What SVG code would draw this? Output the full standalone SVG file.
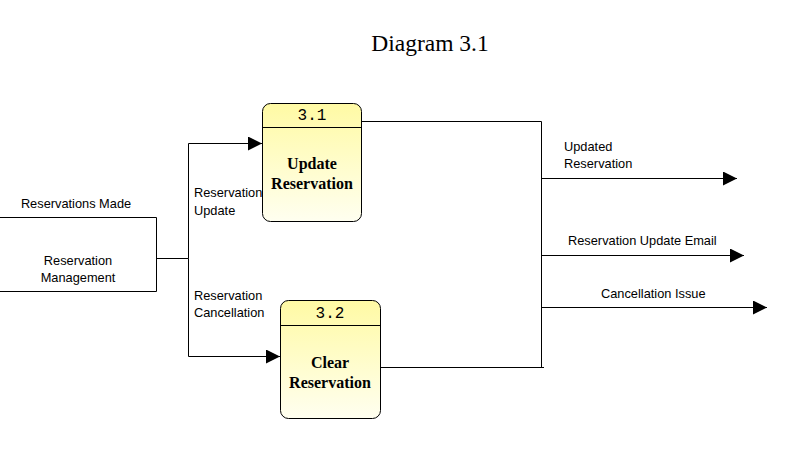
<svg xmlns="http://www.w3.org/2000/svg" width="788" height="463" viewBox="0 0 788 463">
<style>
.ln{fill:none;stroke:#000;stroke-width:1}
.lbl{font-family:"Liberation Sans",Arial,sans-serif;font-size:12.8px;fill:#000}
.num{font-family:"Liberation Mono","Courier New",monospace;font-size:16px;fill:#000}
.pt{font-family:"Liberation Serif","Times New Roman",serif;font-size:16px;font-weight:bold;fill:#000}
.box{fill:url(#g);stroke:#000;stroke-width:1}
</style>
<defs>
<linearGradient id="g" x1="0" y1="0" x2="0" y2="1">
<stop offset="0" stop-color="#fffaa4"/>
<stop offset="1" stop-color="#fffff0"/>
</linearGradient>
<marker id="ah" markerWidth="14" markerHeight="14" refX="14" refY="7" orient="auto" markerUnits="userSpaceOnUse">
<path d="M0,0 L14,7 L0,14 Z" fill="#000"/>
</marker>
</defs>
<rect width="788" height="463" fill="#fff"/>
<text x="430" y="51" text-anchor="middle" font-family="Liberation Serif,'Times New Roman',serif" font-size="23.5">Diagram 3.1</text>

<g id="entity">
<path class="ln" d="M0,217.5 H156.5 V291.5 H0"/>
<text class="lbl" x="76" y="208" text-anchor="middle">Reservations Made</text>
<text class="lbl" x="78" y="265" text-anchor="middle">Reservation</text>
<text class="lbl" x="78" y="282" text-anchor="middle">Management</text>
</g>

<g id="p31">
<rect class="box" x="262.5" y="103.5" width="99" height="118" rx="8"/>
<line class="ln" x1="262.5" y1="127.5" x2="361.5" y2="127.5"/>
<text class="num" x="312" y="120" text-anchor="middle">3.1</text>
<text class="pt" x="312" y="169" text-anchor="middle">Update</text>
<text class="pt" x="312" y="189" text-anchor="middle">Reservation</text>
</g>

<g id="p32">
<rect class="box" x="280.5" y="300.5" width="100" height="118" rx="8"/>
<line class="ln" x1="280.5" y1="325.5" x2="380.5" y2="325.5"/>
<text class="num" x="330" y="318" text-anchor="middle">3.2</text>
<text class="pt" x="330" y="368" text-anchor="middle">Clear</text>
<text class="pt" x="330" y="388" text-anchor="middle">Reservation</text>
</g>

<g id="connectors">
<path class="ln" d="M156.5,258.5 H188.5"/>
<path class="ln" d="M188.5,258.5 V143.5 H262" marker-end="url(#ah)"/>
<path class="ln" d="M188.5,258.5 V356.5 H280" marker-end="url(#ah)"/>
<path class="ln" d="M361.5,121.5 H541.5 V367.5"/>
<path class="ln" d="M380.5,367.5 H544"/>
<path class="ln" d="M541.5,178.5 H737" marker-end="url(#ah)"/>
<path class="ln" d="M541.5,255.5 H744" marker-end="url(#ah)"/>
<path class="ln" d="M541.5,307.5 H767" marker-end="url(#ah)"/>
<text class="lbl" x="194" y="197">Reservation</text>
<text class="lbl" x="194" y="215">Update</text>
<text class="lbl" x="194" y="300">Reservation</text>
<text class="lbl" x="194" y="317">Cancellation</text>
<text class="lbl" x="564" y="151">Updated</text>
<text class="lbl" x="564" y="168">Reservation</text>
<text class="lbl" x="568" y="245">Reservation Update Email</text>
<text class="lbl" x="601" y="298">Cancellation Issue</text>
</g>
</svg>
